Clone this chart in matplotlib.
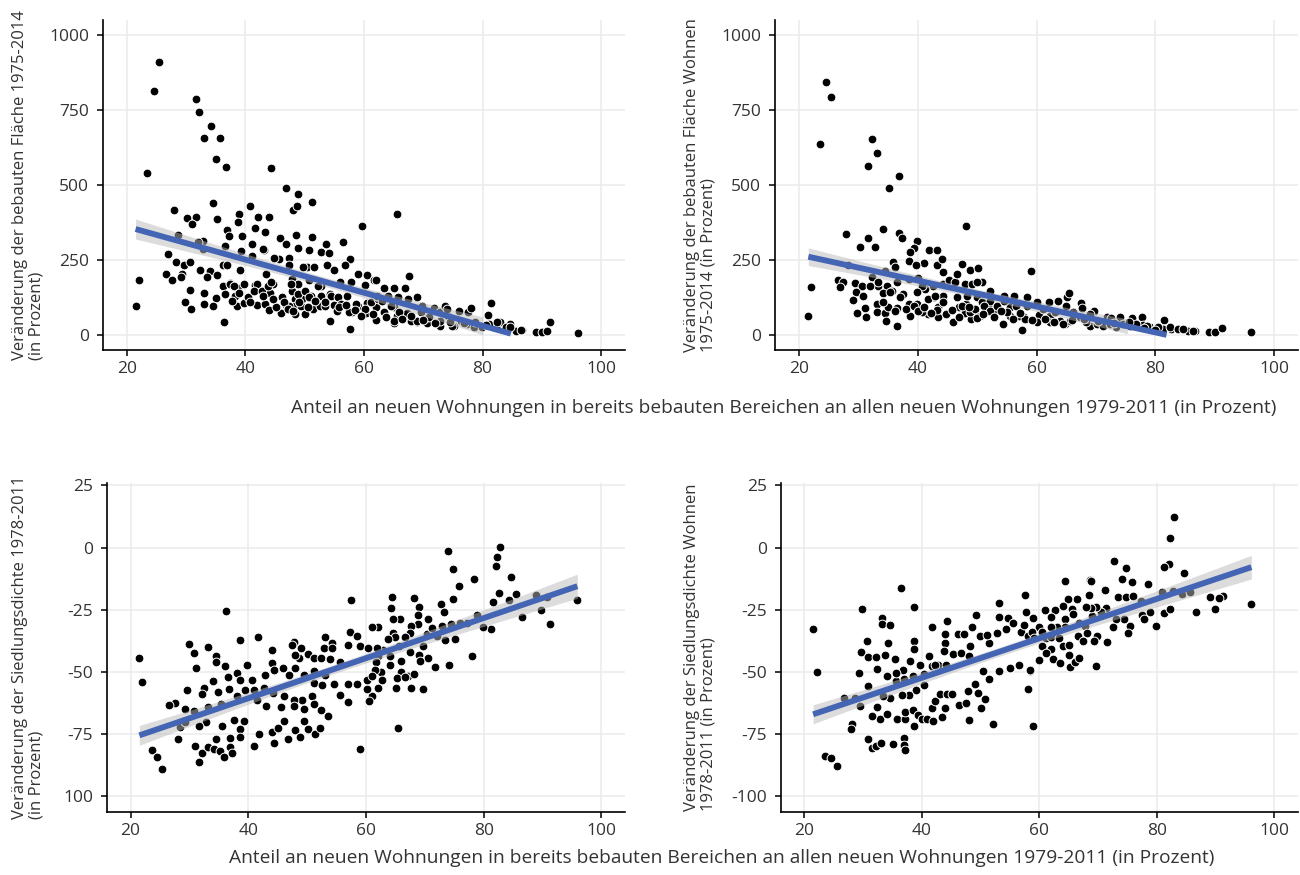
import numpy as np
import matplotlib
matplotlib.use("Agg")
import matplotlib.pyplot as plt

plt.rcParams['font.family'] = ['Open Sans', 'DejaVu Sans']

# --- data ----------------------------------------------------------------
# top left: Veränderung der bebauten Fläche 1975-2014
tl_x = [25.4, 24.6, 23.5, 22.0, 21.5, 31.7, 32.2, 34.2, 33.1, 35.8, 35.1, 36.8, 44.3, 46.9, 48.8, 48.1,
        48.7, 51.3, 34.6, 27.9, 30.2, 31.7, 31.0, 35.3, 38.9, 38.8, 40.8, 42.1, 44.0, 41.7, 43.3, 36.9,
        37.3, 28.7, 39.4, 32.9, 32.0, 36.5, 41.2, 43.2, 39.3, 45.9, 46.8, 48.5, 51.3, 53.6, 48.9, 50.7,
        52.8, 54.1, 56.4, 59.6, 57.7, 56.8, 53.8, 50.4, 51.6, 47.3, 45.7, 26.9, 28.3, 29.6, 30.7, 26.6,
        27.6, 29.3, 32.3, 34.0, 35.3, 36.3, 33.5, 39.1, 41.6, 42.0, 43.5, 44.7, 47.4, 47.8, 48.8, 50.8,
        52.8, 55.0, 56.0, 57.8, 59.0, 60.6, 61.7, 30.7, 33.0, 35.0, 36.2, 37.5, 38.7, 38.2, 36.6, 29.9,
        30.9, 33.1, 34.6, 36.4, 38.6, 39.7, 40.4, 41.9, 41.5, 42.8, 44.2, 43.4, 44.0, 46.2, 46.0, 46.9,
        47.9, 48.4, 48.3, 49.5, 49.4, 48.4, 50.1, 51.0, 51.4, 52.6, 52.8, 54.2, 55.0, 55.4, 54.2, 57.1,
        58.0, 57.6, 59.0, 60.6, 60.4, 62.1, 62.1, 60.2,
        65.5, 67.6, 62.1, 63.4, 65.1, 66.9, 64.0, 65.7, 67.5, 69.0, 69.8, 63.3, 65.1, 65.6, 67.2, 68.9,
        68.3, 70.6, 71.8, 72.9, 73.6, 72.8, 74.2, 75.2, 76.0, 77.6, 78.0, 79.1, 81.0, 81.5, 83.0, 84.6,
        85.6, 86.7, 89.0, 90.1, 90.8, 91.3, 96.1, 82.2, 70.7, 65.1,
        # overlapping markers in the dense cloud
        36.9, 37.4, 38.1, 39.8, 41.2, 43.0, 43.8, 44.3, 44.9, 47.3, 47.7, 48.8, 49.7, 50.1, 50.8, 52.2,
        53.4, 54.4, 55.6, 56.1, 57.5, 58.7, 60.1, 61.2, 62.3, 32.8, 29.2,
        62.2, 63.1, 64.5, 65.9, 65.1, 67.9, 69.0, 69.6, 71.0, 72.9, 74.0, 74.9, 76.3, 77.4, 78.5, 79.9,
        81.1, 82.5, 83.9, 84.7, 86.4,
        46.5, 47.2, 48.0, 49.0, 50.5, 51.8, 45.2, 44.6, 43.0, 40.8, 39.0, 37.8, 53.5, 55.8, 57.0, 58.5,
        59.5, 61.5, 63.8, 66.5, 68.0, 70.0, 72.0, 74.5, 76.8, 78.8, 80.5]
tl_y = [909, 813, 541, 184, 97, 787, 744, 696, 658, 657, 587, 561, 558, 490, 471, 418,
        429, 443, 440, 418, 391, 393, 371, 386, 404, 376, 429, 392, 392, 357, 343, 350,
        330, 334, 330, 315, 310, 298, 303, 285, 280, 324, 304, 334, 326, 304, 291, 285,
        276, 274, 310, 365, 254, 232, 235, 226, 226, 256, 252, 270, 245, 232, 243, 202,
        184, 203, 218, 212, 200, 232, 193, 216, 168, 169, 203, 170, 234, 187, 170, 182,
        165, 218, 176, 176, 203, 200, 184, 150, 139, 124, 165, 174, 157, 129, 136, 110,
        87, 104, 98, 45, 98, 106, 126, 100, 148, 148, 140, 105, 85, 126, 73, 101,
        148, 120, 97, 120, 98, 69, 70, 131, 87, 96, 131, 136, 100, 79, 48, 131,
        78, 20, 98, 107, 73, 50, 92, 168,
        402, 198, 182, 156, 156, 156, 131, 126, 120, 128, 98, 76, 92, 65, 73, 42,
        51, 40, 91, 76, 98, 29, 65, 29, 80, 76, 90, 31, 67, 106, 42, 37,
        14, 18, 9, 11, 14, 45, 7, 26, 59, 40,
        232, 170, 165, 170, 265, 287, 165, 176, 256, 98, 170, 137, 226, 148, 126, 165,
        96, 131, 126, 104, 78, 104, 87, 109, 120, 287, 193,
        131, 115, 98, 76, 48, 48, 48, 76, 59, 48, 87, 31, 48, 37, 26, 26,
        37, 42, 26, 26, 18,
        110, 88, 80, 110, 95, 115, 95, 120, 130, 110, 140, 115, 110, 92, 100, 85,
        65, 70, 60, 55, 65, 50, 40, 45, 40, 45, 35]

# top right: Veränderung der bebauten Fläche Wohnen 1975-2014
tr_x = [24.5, 25.4, 23.5, 22.0, 21.6, 32.3, 33.2, 31.7, 36.8, 35.2, 27.9, 34.2, 36.9, 37.3, 31.7, 30.3,
        32.9, 39.9, 39.4, 38.7, 41.9, 43.3, 48.1, 35.9, 38.5, 41.0, 39.7, 36.2, 34.5, 43.3, 44.1, 47.5,
        48.8, 50.1, 28.3, 26.6, 27.5, 26.9, 29.4, 30.7, 32.3, 33.4, 34.9, 36.6, 38.6, 40.0, 42.5, 44.2,
        45.2, 46.3, 47.9, 49.1, 50.9, 52.2, 54.5, 56.2, 58.4, 59.0, 29.6, 30.8, 29.1, 31.1, 29.8, 31.3,
        33.1, 33.2, 34.5, 34.6, 34.1, 35.7, 35.0, 36.6, 36.5, 37.5, 38.6, 38.7, 39.8, 41.2, 41.8, 42.8,
        43.5, 43.5, 44.2, 45.9, 46.9, 48.2, 48.0, 49.4, 48.9, 50.0, 50.9, 51.5, 51.8, 53.0, 54.3, 55.5,
        55.6, 57.6, 57.9, 58.4, 52.2, 40.7,
        60.1, 62.1, 63.6, 65.2, 65.5, 65.0, 60.4, 62.2, 60.1, 62.2, 63.9, 64.8, 65.7, 67.5, 67.7, 69.7,
        69.0, 67.3, 69.0, 70.7, 71.8, 72.6, 74.0, 76.0, 77.7, 73.3, 75.7, 77.9, 79.1, 80.2, 81.4, 81.3,
        82.7, 84.4, 85.5, 86.6, 89.0, 90.0, 91.2, 96.0,
        # overlapping markers in the dense cloud
        31.9, 33.4, 34.2, 35.3, 36.2, 37.0, 38.1, 39.3, 39.8, 40.7, 41.8, 42.9, 43.2, 44.3, 46.6, 47.4,
        48.3, 48.8, 49.7, 50.5, 51.1, 52.2, 53.4, 54.5, 55.0, 56.5, 57.0, 58.1, 44.3, 46.6, 50.0,
        61.1, 63.1, 64.5, 66.2, 68.4, 70.1, 71.2, 72.3, 74.6, 76.8, 78.5, 80.5, 82.4, 83.8, 84.7, 86.4,
        40.0, 41.0, 42.3, 44.8, 45.8, 47.0, 48.6, 50.0, 51.0, 52.8, 54.0, 56.0, 57.2, 59.3, 61.5, 63.0,
        66.0, 68.0, 70.3, 73.0, 75.5, 78.0, 80.0]
tr_y = [843, 794, 637, 159, 63, 655, 606, 562, 531, 490, 337, 354, 341, 323, 324, 293,
        295, 312, 291, 276, 283, 283, 363, 243, 247, 241, 234, 226, 215, 235, 252, 238,
        218, 223, 234, 184, 176, 159, 174, 165, 192, 163, 165, 176, 187, 189, 165, 170,
        182, 176, 170, 170, 176, 148, 131, 131, 126, 212, 145, 131, 117, 91, 72, 61,
        104, 76, 72, 47, 140, 148, 92, 91, 29, 137, 104, 65, 104, 154, 70, 126,
        92, 61, 129, 45, 92, 104, 73, 76, 53, 126, 109, 76, 98, 81, 37, 92,
        65, 18, 61, 96, 115, 163,
        109, 109, 115, 126, 139, 96, 67, 65, 42, 42, 48, 37, 48, 106, 89, 81,
        70, 61, 31, 42, 59, 56, 59, 57, 61, 26, 31, 33, 26, 28, 50, 20,
        20, 20, 14, 14, 9, 9, 22, 9,
        165, 176, 109, 143, 81, 126, 87, 98, 143, 76, 120, 131, 85, 109, 126, 98,
        131, 76, 87, 65, 98, 81, 96, 115, 76, 98, 65, 53, 209, 204, 176,
        87, 76, 37, 76, 42, 37, 31, 37, 37, 37, 31, 26, 26, 20, 20, 14,
        80, 95, 75, 70, 85, 60, 92, 58, 70, 60, 80, 55, 75, 50, 55, 45,
        50, 55, 48, 40, 42, 22, 18]

# bottom left: Veränderung der Siedlungsdichte 1978-2011
bl_x = [21.5, 22.0, 23.6, 24.5, 25.4, 36.3, 57.5, 29.9, 30.8, 33.1, 34.5, 34.5, 31.2, 36.1, 38.6, 39.7,
        41.6, 38.0, 44.0, 44.0, 36.6, 38.6, 34.0, 32.4, 29.6, 27.6, 26.6, 29.2, 30.7, 32.2, 33.2, 34.9,
        35.3, 36.8, 38.0, 39.4, 40.9, 40.6, 42.8, 44.3, 45.9, 47.0, 48.0, 47.7, 47.4, 49.0, 48.7, 50.2,
        51.1, 52.3, 53.1, 54.2, 53.9, 55.5, 52.8, 56.9, 58.9, 49.4, 51.1, 53.1, 51.1, 52.5, 54.5, 56.9,
        58.5, 55.6, 57.0, 50.8, 49.1, 47.7, 46.0, 44.2, 42.7, 41.4, 43.0, 45.5, 47.8, 49.5, 51.1, 52.3,
        53.6, 39.3, 37.6, 38.6, 36.9, 35.5, 32.9, 31.6, 34.6, 31.0, 32.2, 31.6, 33.1, 34.2, 35.2, 35.9,
        36.9, 37.2, 38.6, 40.9, 41.8, 44.0, 44.3, 45.1, 46.0, 46.8, 47.9, 48.8, 49.5, 50.1, 51.4, 52.2,
        28.0, 28.4, 29.3, 58.9, 48.0, 57.3, 58.5, 54.3,
        74.0, 74.7, 82.8, 82.3, 82.0, 84.6, 78.4, 75.8, 64.4, 64.2, 68.1, 69.0, 72.7, 73.3, 74.7, 81.5,
        82.6, 84.3, 85.4, 88.8, 89.8, 90.7, 91.2, 95.9, 86.5, 81.3, 79.8, 78.9, 77.2, 75.9, 74.5, 72.9,
        73.4, 72.0, 75.1, 78.0, 74.1, 71.7, 70.6, 70.4, 71.2, 70.6, 68.9, 68.9, 67.6, 67.5, 65.8, 64.5,
        62.1, 61.1, 64.6, 64.9, 63.8, 65.6, 66.6, 67.5, 69.0, 69.2, 69.7, 62.9, 61.9, 60.4, 62.0, 61.7,
        62.5, 64.1, 64.1, 66.0, 65.9, 65.3, 67.2, 68.2, 69.6, 67.6, 66.6, 65.1, 62.8, 62.1, 61.1, 60.5,
        60.1, 60.1, 65.5, 61.5, 61.0]
bl_y = [-44.4, -54.1, -81.4, -84.1, -88.9, -25.4, -21.0, -38.6, -42.4, -40.1, -43.4, -46.1, -48.5, -47.5, -37.0, -47.3,
        -36.0, -50.4, -41.3, -46.4, -52.1, -53.1, -53.5, -56.4, -57.1, -62.4, -63.1, -64.8, -65.8, -58.8, -64.2, -58.0,
        -62.8, -56.8, -59.5, -57.1, -57.1, -53.1, -51.1, -49.1, -48.4, -51.1, -48.4, -38.0, -39.3, -40.4, -44.4, -42.8,
        -44.4, -44.4, -36.0, -38.4, -44.8, -46.1, -40.4, -39.0, -39.7, -51.1, -49.7, -51.1, -54.4, -55.1, -54.8, -54.7,
        -54.7, -59.1, -62.2, -59.8, -61.1, -61.1, -59.8, -58.4, -56.4, -61.4, -63.8, -64.2, -63.8, -64.8, -62.8, -65.4,
        -67.8, -69.8, -69.1, -72.9, -76.5, -71.8, -70.2, -71.8, -76.9, -79.8, -82.5, -86.2, -80.2, -80.9, -81.8, -84.1,
        -80.2, -82.5, -76.2, -79.8, -74.7, -74.2, -78.7, -72.5, -69.8, -76.9, -73.1, -76.2, -69.8, -72.9, -74.9, -72.5,
        -76.9, -72.2, -70.1, -81.1, -43.0, -33.7, -35.7, -40.4,
        -1.5, -8.6, 0.4, -3.6, -7.2, -11.9, -12.7, -15.6, -19.9, -24.2, -20.3, -23.7, -22.6, -25.7, -20.7, -21.9,
        -18.3, -21.0, -18.7, -19.0, -25.0, -19.9, -30.6, -21.0, -27.9, -32.5, -31.7, -27.0, -30.1, -30.3, -30.6, -31.4,
        -37.0, -35.7, -36.8, -43.4, -47.3, -48.0, -44.4, -34.6, -32.4, -28.7, -27.0, -30.6, -31.3, -34.4, -28.7, -28.7,
        -31.7, -32.0, -34.1, -36.0, -36.8, -39.7, -36.1, -42.1, -43.0, -45.7, -39.7, -41.0, -40.5, -40.4, -43.4, -46.1,
        -50.1, -47.1, -43.7, -45.7, -50.1, -52.4, -51.7, -50.7, -56.8, -56.6, -52.0, -56.4, -53.1, -56.4, -59.8, -61.8,
        -56.8, -53.3, -72.5, -49.1, -51.5]

# bottom right: Veränderung der Siedlungsdichte Wohnen 1978-2011
br_x = [21.5, 22.1, 23.6, 24.6, 25.5, 36.4, 29.9, 38.7, 33.2, 33.2, 34.6, 30.7, 29.6, 30.8, 32.2, 34.2,
        33.8, 35.4, 38.7, 38.7, 41.7, 44.3, 29.3, 30.8, 29.4, 26.8, 28.6, 32.4, 34.1, 35.6, 36.8, 38.0,
        39.7, 38.5, 40.3, 41.7, 41.3, 42.8, 44.1, 43.9, 44.0, 45.3, 46.1, 47.2, 48.5, 49.2, 48.2, 49.9,
        51.4, 51.1, 52.8, 53.1, 53.1, 54.6, 54.3, 55.5, 56.9, 57.6, 57.8, 57.4, 58.0, 46.7, 48.1, 43.7,
        42.3, 35.6, 36.9, 40.3, 39.1, 37.9, 36.6, 34.6, 33.4, 32.4, 32.9, 31.6, 34.1, 35.7, 37.2, 37.2,
        38.5, 38.6, 39.3, 40.0, 40.9, 41.7, 41.9, 43.4, 42.3, 43.1, 44.3, 45.1, 44.0, 46.3, 47.5, 48.1,
        47.9, 49.0, 49.6, 50.8, 50.1, 51.4, 52.2, 50.5, 53.1, 55.1, 56.5, 58.5, 58.0, 30.9, 31.6, 32.2,
        33.1, 35.1, 36.9, 36.9, 37.1, 28.2, 27.9,
        82.9, 82.3, 82.0, 81.3, 72.7, 74.7, 64.3, 68.7, 74.0, 75.8, 78.5, 84.6, 71.2, 73.4, 74.8, 75.9,
        80.9, 82.7, 84.3, 85.6, 89.0, 91.3, 90.6, 96.1, 89.9, 86.6, 81.2, 82.3, 78.9, 77.5, 77.9, 79.8,
        77.3, 75.4, 75.1, 74.5, 73.0, 72.6, 71.6, 71.4, 70.5, 69.7, 69.0, 68.8, 68.0, 68.4, 68.8, 66.4,
        64.9, 64.1, 65.6, 62.7, 61.0, 62.0, 64.4, 65.7, 66.8, 67.7, 64.3, 63.1, 62.0, 60.0, 60.5, 59.0,
        58.8, 59.1, 61.1, 62.0, 63.4, 66.6, 68.2, 67.4, 69.8, 69.3, 64.0, 65.1, 62.0, 60.5, 61.1, 60.0,
        62.3, 63.5, 65.1, 65.2, 66.0, 66.8, 69.7, 58.4, 58.9]
br_y = [-32.6, -50.0, -83.8, -84.5, -87.6, -16.3, -24.6, -23.9, -28.3, -30.6, -31.0, -37.7, -42.1, -44.1, -44.0, -38.4,
        -43.3, -44.7, -37.7, -40.8, -31.7, -29.5, -50.4, -55.7, -63.5, -60.4, -60.4, -48.8, -51.5, -53.7, -49.3, -45.7,
        -47.1, -51.7, -50.8, -47.5, -43.7, -47.1, -47.1, -38.4, -34.6, -42.6, -34.6, -34.6, -32.0, -27.0, -39.7, -35.4,
        -38.4, -35.0, -34.1, -22.1, -27.7, -28.3, -32.8, -30.3, -33.7, -19.0, -25.9, -31.0, -35.4, -42.4, -43.7, -41.7,
        -47.1, -50.4, -52.8, -55.1, -57.1, -59.1, -59.1, -60.4, -59.8, -64.2, -68.9, -67.5, -66.8, -68.7, -68.7, -66.0,
        -65.1, -71.8, -67.1, -68.9, -68.9, -64.4, -69.8, -68.0, -61.8, -58.8, -58.8, -58.7, -64.4, -63.4, -62.4, -69.4,
        -57.5, -54.7, -58.4, -60.8, -64.4, -52.8, -70.7, -49.7, -49.5, -48.4, -47.1, -49.5, -56.8, -76.9, -80.7, -79.8,
        -78.7, -78.9, -76.5, -79.4, -81.4, -70.9, -72.9,
        12.2, 3.7, -6.6, -7.6, -5.3, -8.2, -13.2, -13.0, -12.7, -13.9, -14.7, -10.0, -17.2, -19.9, -19.7, -19.4,
        -18.0, -17.6, -18.7, -18.0, -19.7, -19.4, -20.3, -22.7, -24.7, -25.7, -26.3, -24.7, -25.7, -27.0, -28.7, -31.3,
        -21.4, -31.4, -34.1, -28.7, -28.7, -32.0, -38.1, -24.3, -25.7, -23.7, -27.4, -24.3, -23.9, -19.0, -13.4, -20.7,
        -20.6, -23.4, -24.5, -25.0, -25.0, -27.7, -28.7, -26.6, -30.1, -31.4, -31.7, -31.7, -31.7, -31.7, -33.7, -28.3,
        -33.7, -36.4, -36.4, -36.0, -36.4, -35.4, -34.1, -37.7, -35.4, -37.7, -39.7, -39.3, -40.8, -39.4, -42.4, -45.1,
        -44.9, -46.4, -43.0, -48.0, -46.0, -44.4, -47.7, -49.3, -71.8]

x_label = "Anteil an neuen Wohnungen in bereits bebauten Bereichen an allen neuen Wohnungen 1979-2011 (in Prozent)"
y_labels = ["Veränderung der bebauten Fläche 1975-2014\n(in Prozent)",
            "Veränderung der bebauten Fläche Wohnen\n1975-2014 (in Prozent)",
            "Veränderung der Siedlungsdichte 1978-2011\n(in Prozent)",
            "Veränderung der Siedlungsdichte Wohnen\n1978-2011 (in Prozent)"]
x_ticks = [20, 40, 60, 80, 100]
top_yticks = [0, 250, 500, 750, 1000]
bot_yticks = [-100, -75, -50, -25, 0, 25]
bot_left_ytick_labels = ["100", "-75", "-50", "-25", "0", "25"]
bot_right_ytick_labels = ["-100", "-75", "-50", "-25", "0", "25"]

fig = plt.figure(figsize=(13, 8.75), dpi=100)

TEXT = '#333333'
BLUE = '#4464b4'


def panel(rect, x, y, yticks, yticklabels, ylim, clip_low=None):
    ax = fig.add_axes(rect)
    x = np.array(x, float)
    y = np.array(y, float)
    ax.set_axisbelow(True)
    ax.grid(True, color='#ebebeb', lw=1.1)
    ax.scatter(x, y, s=40, c='black', edgecolors='white', linewidths=0.7, zorder=2)

    # linear fit with 95% band (like geom_smooth(method='lm'))
    b, a = np.polyfit(x, y, 1)
    n = len(x)
    xs = np.linspace(x.min(), x.max(), 80)
    ys = a + b * xs
    resid = y - (a + b * x)
    s = np.sqrt(np.sum(resid ** 2) / (n - 2))
    se = s * np.sqrt(1.0 / n + (xs - x.mean()) ** 2 / np.sum((x - x.mean()) ** 2))
    lo, hi = ys - 1.97 * se, ys + 1.97 * se
    if clip_low is not None:
        m_band = lo >= clip_low
        m_line = ys >= clip_low
    else:
        m_band = m_line = np.ones_like(xs, bool)
    ax.fill_between(xs[m_band], lo[m_band], hi[m_band], color='#bbbbbb', alpha=0.5, lw=0, zorder=3)
    ax.plot(xs[m_line], ys[m_line], color=BLUE, lw=4.2, solid_capstyle='butt', zorder=4)

    ax.set_xlim(16, 104)
    ax.set_ylim(*ylim)
    ax.set_xticks(x_ticks)
    ax.set_yticks(yticks)
    ax.set_yticklabels(yticklabels)
    for sp in ['top', 'right']:
        ax.spines[sp].set_visible(False)
    for sp in ['left', 'bottom']:
        ax.spines[sp].set_linewidth(1.2)
    ax.tick_params(length=4, width=1.1, colors='black', labelcolor=TEXT, labelsize=12.5)
    ax.tick_params(axis='y', pad=6)
    ax.tick_params(axis='x', pad=4)
    return ax


panel([0.0792, 0.600, 0.4015, 0.377], tl_x, tl_y, top_yticks, [str(t) for t in top_yticks], (-50, 1050), clip_low=0)
panel([0.5962, 0.600, 0.4023, 0.377], tr_x, tr_y, top_yticks, [str(t) for t in top_yticks], (-50, 1050), clip_low=0)
panel([0.0823, 0.072, 0.3985, 0.376], bl_x, bl_y, bot_yticks, bot_left_ytick_labels, (-106.25, 26))
panel([0.6006, 0.072, 0.3977, 0.376], br_x, br_y, bot_yticks, bot_right_ytick_labels, (-106.25, 26))

fig.text(0.603, 0.534, x_label, ha='center', va='center', fontsize=13.8, color=TEXT)
fig.text(0.555, 0.019, x_label, ha='center', va='center', fontsize=13.8, color=TEXT)

for (px, py), lab in zip([(0.0215, 0.789), (0.5385, 0.789), (0.0215, 0.26), (0.5385, 0.26)], y_labels):
    fig.text(px, py, lab, rotation=90, ha='center', va='center', multialignment='left',
             fontsize=12, color=TEXT, linespacing=1.05)

fig.savefig('out.png', dpi=100)
